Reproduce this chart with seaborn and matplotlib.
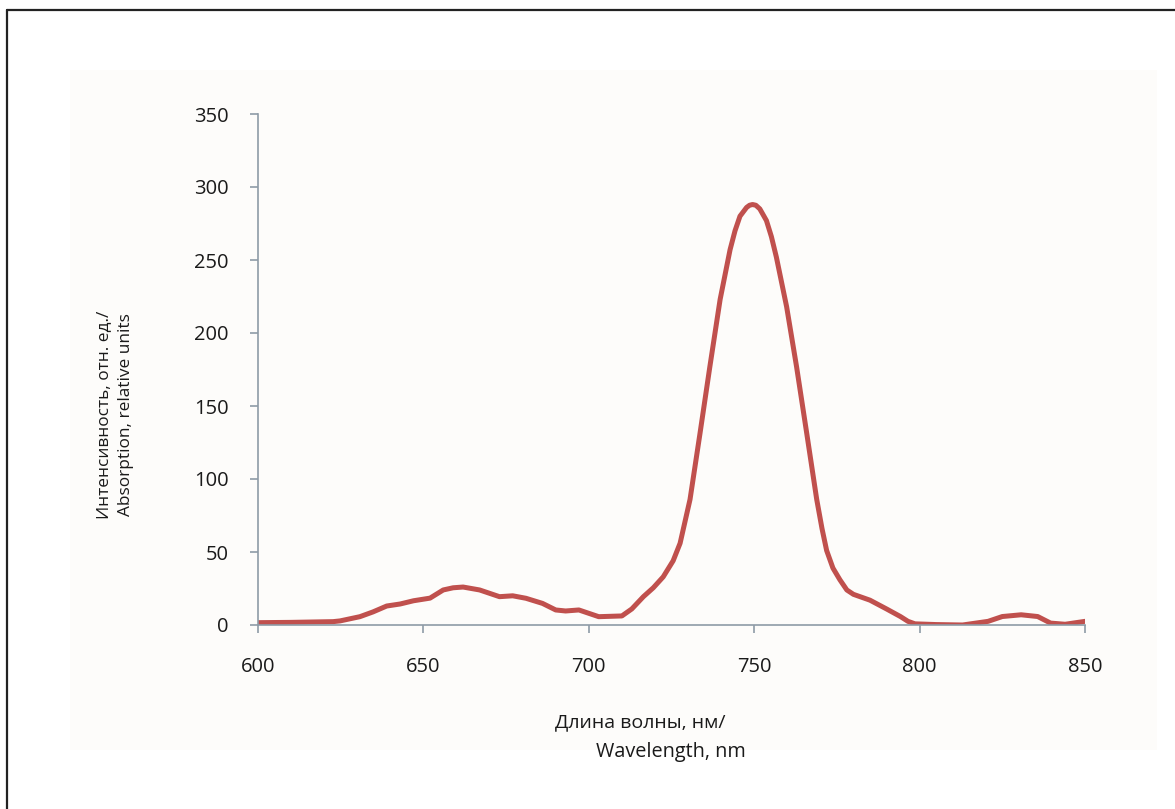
import matplotlib
matplotlib.use("Agg")
import matplotlib.pyplot as plt
import seaborn as sns
import pandas as pd
from matplotlib.patches import Rectangle
from matplotlib.lines import Line2D

wavelength = [600, 610, 620, 622.7, 624.8, 630.8, 634.8, 638.9, 643, 647, 652, 656, 659, 662, 667,
              673, 677, 681, 686, 690, 693, 697, 703, 710, 713, 716.5, 719.5, 722.5, 725.5, 727.6,
              730.6, 733.6, 736.6, 739.7, 742.7, 744.2, 745.7, 747.7, 748.6, 749.5, 750.5, 751.7,
              752.7, 753.7, 755.2, 756.7, 759.8, 762.8, 765.9, 768.9, 770.5, 771.9, 773.8, 775.9,
              778, 780, 785, 790, 794.2, 796.5, 798.6, 805, 813, 820.7, 825, 830.7,
              835.7, 839.6, 844, 850]
absorption = [1.6, 1.8, 2.2, 2.3, 2.8, 5.7, 9, 13, 14.4, 16.6, 18.4, 24, 25.5, 26, 24,
              19.4, 20, 18.3, 14.8, 10.3, 9.6, 10.3, 5.7, 6.2, 11, 19.4, 25.5, 33, 44, 56,
              86, 131, 177, 223, 257, 270, 280, 286, 287.5, 288, 287.5, 285,
              281, 277, 266, 252, 218, 177, 131, 86, 66, 51, 39, 31,
              24, 21, 17, 11, 5.8, 2.5, 0.8, 0.3, 0, 2.5, 5.8, 7,
              5.8, 1.3, 0.5, 2.5]

x_ticks = [600, 650, 700, 750, 800, 850]
y_ticks = [0, 50, 100, 150, 200, 250, 300, 350]
x_label_lines = ["Длина волны, нм/", "Wavelength, nm"]
y_label = "Интенсивность, отн. ед./\nAbsorption, relative units"

sns.set_theme(style="white")
plt.rcParams['font.family'] = ['Open Sans', 'DejaVu Sans']

W, H = 1175, 809
fig = plt.figure(figsize=(W / 100, H / 100), dpi=100)
fig.patch.set_facecolor("white")

# faint background panel
fig.patches.append(Rectangle((70 / W, 1 - 750 / H), (1157 - 70) / W, (750 - 70) / H,
                             transform=fig.transFigure, facecolor="#fdfcfa",
                             edgecolor="none", zorder=-5))
# outer border (top & left)
fig.lines.append(Line2D([7 / W, 1.0], [1 - 10 / H, 1 - 10 / H], transform=fig.transFigure,
                        color="#222222", linewidth=1.6, zorder=-4))
fig.lines.append(Line2D([7 / W, 7 / W], [0, 1 - 10 / H], transform=fig.transFigure,
                        color="#222222", linewidth=1.6, zorder=-4))

ax = fig.add_axes([258 / W, 1 - 625 / H, (1085 - 258) / W, (625 - 114) / H])
ax.set_zorder(2)
ax.set_facecolor("none")
ax.patch.set_alpha(0)

df = pd.DataFrame({"wl": wavelength, "abs": absorption})
sns.lineplot(data=df, x="wl", y="abs", ax=ax, color="#c0504d", linewidth=3.6,
             solid_capstyle="round", solid_joinstyle="round")

ax.set_xlim(600, 850)
ax.set_ylim(0, 350)
ax.set_xticks(x_ticks)
ax.set_yticks(y_ticks)
ax.set_xticklabels([str(t) for t in x_ticks])
ax.set_yticklabels([str(t) for t in y_ticks])

axis_color = "#8e9ba6"
for s in ["top", "right"]:
    ax.spines[s].set_visible(False)
for s in ["left", "bottom"]:
    ax.spines[s].set_color(axis_color)
    ax.spines[s].set_linewidth(1.2)

ax.tick_params(axis="both", which="major", direction="out", length=6, width=1.2,
               color=axis_color, labelsize=14.5, labelcolor="#1a1a1a")
ax.tick_params(axis="y", pad=15, left=True)
ax.tick_params(axis="x", pad=17, bottom=True)
ax.set_xlabel("")
ax.set_ylabel("")
ax.grid(False)

fig.text(115 / W, 1 - 415 / H, y_label, rotation=90, ha="center", va="center",
         fontsize=12.4, color="#1a1a1a", linespacing=1.45)
fig.text(640 / W, 1 - 722 / H, x_label_lines[0], ha="center", va="center",
         fontsize=14, color="#1a1a1a")
fig.text(671 / W, 1 - 752 / H, x_label_lines[1], ha="center", va="center",
         fontsize=14.3, color="#1a1a1a")

fig.savefig("out.png", dpi=100, facecolor="white")
